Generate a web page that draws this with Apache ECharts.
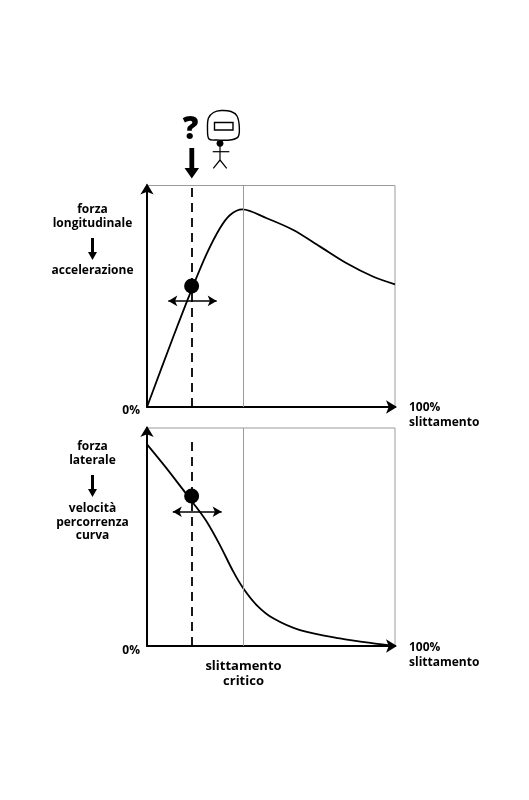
<!DOCTYPE html>
<html>
<head>
<meta charset="utf-8">
<script src="https://cdn.jsdelivr.net/npm/echarts@6/dist/echarts.min.js"></script>
<style>
html,body{margin:0;padding:0;background:#fff;}
#chart{width:529px;height:800px;}
</style>
</head>
<body>
<div id="chart"></div>
<script>
// ---- data ----
const longSlip  = [0, 10.6, 18, 24, 29.4, 33.5, 38.5, 48.3, 59, 69.8, 80.5, 91.3, 100];
const longForce = [0, 31.7, 53, 69, 80.7, 86.7, 89.2, 85.2, 79.9, 72.4, 64.9, 58.8, 55.4];
const latSlip   = [0, 7.9, 14.6, 18.7, 24.1, 29.4, 34.8, 38.8, 44.2, 50.9, 61.7, 77.8, 91.3, 100];
const latForce  = [92.5, 81.5, 71.6, 65.5, 57, 46.3, 34.1, 26.5, 18.8, 12.7, 7.3, 3.5, 1.2, 0];
const criticalSlip = 38.7;
const operatingSlip = 18;
const longPoint = 54.6;
const latPoint = 68.8;
const longRange = [8.6, 28.1, 47.9];   // from, to, level
const latRange  = [10.4, 30.1, 61.6];
const latDashTop = 95.5;
const labels = {
  longY: ['forza', 'longitudinale', 'accelerazione'],
  latY: ['forza', 'laterale', 'velocità', 'percorrenza', 'curva'],
  zero: '0%',
  full: '100%\nslittamento',
  critical: 'slittamento\ncritico',
  question: '?'
};

const zip = (a, b) => a.map((v, i) => [v, b[i]]);
const FONT = '"Open Sans", sans-serif';

function axisX(gi) {
  return {
    type: 'value', gridIndex: gi, min: 0, max: 100,
    axisLine: { show: true, symbol: ['none', 'arrow'], symbolSize: [10, 11], symbolOffset: [0, 2],
      lineStyle: { color: '#000', width: 2 } },
    axisTick: { show: false }, axisLabel: { show: false }, splitLine: { show: false }
  };
}
function axisY(gi) {
  return {
    type: 'value', gridIndex: gi, min: 0, max: 100,
    axisLine: { show: true, symbol: ['none', 'arrow'], symbolSize: [10, 11], symbolOffset: [0, 2],
      lineStyle: { color: '#000', width: 2 } },
    axisTick: { show: false }, axisLabel: { show: false }, splitLine: { show: false }
  };
}
function marks(dashTop, range) {
  return {
    silent: true, symbol: 'none', animation: false,
    label: { show: false },
    data: [
      { xAxis: criticalSlip, lineStyle: { color: '#9a9a9a', width: 1, type: 'solid' } },
      [{ coord: [operatingSlip, 0], lineStyle: { color: '#000', width: 1.8, type: [9, 6] } },
       { coord: [operatingSlip, dashTop] }],
      [{ coord: [range[0], range[2]], symbol: 'arrow', symbolSize: [8, 9], lineStyle: { color: '#000', width: 1.6, type: 'solid' } },
       { coord: [range[1], range[2]], symbol: 'arrow', symbolSize: [8, 9] }]
    ]
  };
}

function txt(x, y, text, size, weight, align) {
  return { type: 'text', x: x, y: y, z: 10, style: {
    text: text, fill: '#000', font: (weight || 700) + ' ' + (size || 12) + 'px ' + FONT,
    align: align || 'center', verticalAlign: 'middle', lineHeight: 15 } };
}
function downArrow(cx, y0, y1, shaftW, headW, headH) {
  return { type: 'polygon', z: 10, shape: { points: [
    [cx - shaftW / 2, y0], [cx + shaftW / 2, y0], [cx + shaftW / 2, y1 - headH],
    [cx + headW / 2, y1 - headH], [cx, y1], [cx - headW / 2, y1 - headH], [cx - shaftW / 2, y1 - headH]
  ] }, style: { fill: '#000' } };
}

const chart = echarts.init(document.getElementById('chart'), null, { renderer: 'canvas' });
chart.setOption({
  backgroundColor: '#fff',
  animation: false,
  grid: [
    { left: 147, top: 185.5, width: 248, height: 221.5, show: true, borderColor: '#9a9a9a', borderWidth: 1, backgroundColor: 'transparent' },
    { left: 147, top: 428, width: 248, height: 218, show: true, borderColor: '#9a9a9a', borderWidth: 1, backgroundColor: 'transparent' }
  ],
  xAxis: [axisX(0), axisX(1)],
  yAxis: [axisY(0), axisY(1)],
  series: [
    { type: 'line', xAxisIndex: 0, yAxisIndex: 0, data: zip(longSlip, longForce), smooth: 0.3,
      showSymbol: false, lineStyle: { color: '#000', width: 1.8 }, markLine: marks(100, longRange), z: 3 },
    { type: 'line', xAxisIndex: 1, yAxisIndex: 1, data: zip(latSlip, latForce), smooth: 0.3,
      showSymbol: false, lineStyle: { color: '#000', width: 1.8 }, markLine: marks(latDashTop, latRange), z: 3 },
    { type: 'scatter', xAxisIndex: 0, yAxisIndex: 0, data: [[operatingSlip, longPoint]], symbolSize: 15,
      itemStyle: { color: '#000', opacity: 1 }, z: 5 },
    { type: 'scatter', xAxisIndex: 1, yAxisIndex: 1, data: [[operatingSlip, latPoint]], symbolSize: 15,
      itemStyle: { color: '#000', opacity: 1 }, z: 5 }
  ],
  graphic: [
    // left labels, top chart
    txt(92.5, 210, labels.longY[0]),
    txt(92.5, 224, labels.longY[1]),
    downArrow(92.5, 238, 260, 3, 9, 8),
    txt(92.5, 271, labels.longY[2]),
    txt(140, 411, labels.zero, 12, 700, 'right'),
    { type: 'text', x: 409, y: 415.5, z: 10, style: { text: labels.full, fill: '#000',
      font: '700 12px ' + FONT, align: 'left', verticalAlign: 'middle', lineHeight: 15 } },
    // left labels, bottom chart
    txt(92.5, 447, labels.latY[0]),
    txt(92.5, 461, labels.latY[1]),
    downArrow(92.5, 475, 497, 3, 9, 8),
    txt(92.5, 508.5, labels.latY[2]),
    txt(92.5, 522.5, labels.latY[3]),
    txt(92.5, 536, labels.latY[4]),
    txt(140, 651, labels.zero, 12, 700, 'right'),
    { type: 'text', x: 409, y: 655.5, z: 10, style: { text: labels.full, fill: '#000',
      font: '700 12px ' + FONT, align: 'left', verticalAlign: 'middle', lineHeight: 15 } },
    { type: 'text', x: 243.5, y: 673.5, z: 10, style: { text: labels.critical, fill: '#000',
      font: '700 13px ' + FONT, align: 'center', verticalAlign: 'middle', lineHeight: 15 } },
    // question mark and arrow
    { type: 'text', x: 190.5, y: 130, z: 10, style: { text: labels.question, fill: '#000',
      font: '800 31px ' + FONT, align: 'center', verticalAlign: 'middle' } },
    downArrow(191.8, 148, 178.5, 4.8, 14.5, 10.5),
    // helmet + stick figure
    { type: 'polygon', z: 10, shape: { smooth: 0.35, points: [
      [209, 139], [207.5, 128], [208.5, 118], [213.5, 112.5], [221, 110.5], [231, 111.5],
      [237, 116], [239.3, 127], [238, 137], [230, 140], [217, 140]
    ] }, style: { fill: 'none', stroke: '#000', lineWidth: 1.4 } },
    { type: 'rect', z: 10, shape: { x: 214.5, y: 122.5, width: 18.5, height: 7.5 },
      style: { fill: 'none', stroke: '#000', lineWidth: 1.4 } },
    { type: 'circle', z: 11, shape: { cx: 220, cy: 143.3, r: 3.4 }, style: { fill: '#000' } },
    { type: 'line', z: 10, shape: { x1: 220, y1: 144, x2: 220, y2: 160 }, style: { stroke: '#000', lineWidth: 1.2 } },
    { type: 'line', z: 10, shape: { x1: 212.7, y1: 151.7, x2: 229.3, y2: 151.7 }, style: { stroke: '#000', lineWidth: 1.2 } },
    { type: 'line', z: 10, shape: { x1: 220, y1: 160, x2: 213.3, y2: 168.3 }, style: { stroke: '#000', lineWidth: 1.2 } },
    { type: 'line', z: 10, shape: { x1: 220, y1: 160, x2: 226.7, y2: 168.3 }, style: { stroke: '#000', lineWidth: 1.2 } }
  ]
});
</script>
</body>
</html>
